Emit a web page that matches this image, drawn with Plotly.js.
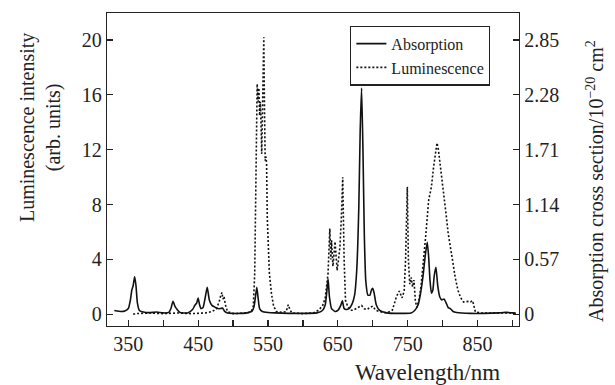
<!DOCTYPE html>
<html>
<head>
<meta charset="utf-8">
<script src="https://cdn.plot.ly/plotly-3.0.1.min.js"></script>
<style>html,body{margin:0;padding:0;background:#fff;}#chart{width:615px;height:385px;}</style>
</head>
<body>
<div id="chart"></div>
<script>
// Absorption cross section (10^-20 cm^2) vs wavelength (nm)
const absWavelength = [330,340,345,350,353,355,357,359,361,363,366,375,385,390,400,408,411,414,417,420,424,435,442,445,448,450,452,454,457,460,463,466,470,474,478,482,485,488,492,500,510,520,527,530,532,534,536,538,542,550,560,580,600,620,628,632,634,636,638,641,646,650,654,656.5,659,662,666,670,674,677,680,682,684,686,688,690,693,696,698,700,702,705,710,720,740,755,760,765,768,772,775,778,780,782,784,786,788,790.5,793,796,799,802,805,808,811,815,820,840,860,880,890,900,905];
const absValues = [0.04,0.03,0.035,0.06,0.15,0.25,0.3,0.39,0.3,0.12,0.04,0.02,0.02,0.025,0.015,0.02,0.06,0.135,0.08,0.05,0.02,0.015,0.05,0.09,0.12,0.17,0.1,0.06,0.07,0.17,0.28,0.15,0.09,0.075,0.06,0.06,0.065,0.03,0.015,0.01,0.01,0.015,0.03,0.08,0.18,0.28,0.16,0.06,0.03,0.02,0.015,0.01,0.01,0.015,0.04,0.1,0.22,0.37,0.18,0.06,0.03,0.04,0.09,0.14,0.06,0.05,0.06,0.1,0.2,0.45,1.1,1.9,2.35,1.7,0.8,0.35,0.2,0.2,0.25,0.27,0.22,0.1,0.04,0.015,0.01,0.015,0.04,0.1,0.2,0.4,0.6,0.75,0.6,0.35,0.22,0.25,0.4,0.49,0.3,0.18,0.15,0.16,0.12,0.07,0.06,0.03,0.02,0.01,0.01,0.015,0.02,0.015,0.01];
// Luminescence intensity (arb. units) vs wavelength (nm)
const lumWavelength = [357,360,380,400,420,440,460,470,476,480,482,484,485.5,487,489,492,500,520,526,529,531,533,534.5,536,537,538,539,540,541,542,543,544,545,546,547,548,549,550,552,555,558,562,570,576,579,581,584,600,615,622,628,632,636,638.5,640,641,643,646,648,649,651,653,655,657,659,661,664,668,672,676,680,684,688,692,696,700,704,710,720,728,734,738,742,745,747,749.5,751,753,755,757,759,761,763,766,769,772,776,780,784,787,789,791,792,794,796,798,801,805,808,812,815,818,822,826,830,834,837,840,843,845,847,855,870,890,905];
const lumValues = [0.0,0.05,0.1,0.05,0.1,0.05,0.1,0.2,0.4,0.9,1.3,1.6,1.1,1.3,0.7,0.2,0.05,0.1,0.2,0.6,3,10,16.8,15.5,16.5,14.5,15.5,14,11.7,14.5,17,20.2,15,11.2,11.5,11,7,5,3,1.5,0.6,0.2,0.15,0.2,0.7,0.4,0.1,0.05,0.1,0.3,0.6,1.2,3,6.25,4,5.4,3.5,5.3,3.5,3.2,4,4.9,7,10,4,1.0,0.6,0.3,0.3,0.4,0.5,0.65,0.4,0.35,0.5,0.6,0.3,0.2,0.1,0.3,1.3,1.7,1.2,1.7,4,9.3,4,2.2,2.7,2.0,2.5,1.0,0.5,1.0,2.0,3.5,5.8,8.3,9.3,10.7,11.5,12.2,12.5,12.0,11.2,10.2,8.8,7.3,5.9,4.8,3.7,2.7,1.75,1.2,0.9,0.95,0.9,0.9,1.0,0.6,0.17,0.1,0.1,0.15,0.1];
const xTickVals = [350,450,550,650,750,850];
const xTickText = ['350','450','550','650','750','850'];
const yLeftTicks = [0,4,8,12,16,20];
const yRightTicks = [0,0.57,1.14,1.71,2.28,2.85];
const yRightText = ['0','0.57','1.14','1.71','2.28','2.85'];

const serif = 'Liberation Serif, Times New Roman, serif';
const traces = [
  {x: absWavelength, y: absValues, yaxis: 'y2', name: 'Absorption', type: 'scatter', mode: 'lines',
   line: {color: '#111', width: 1.6, shape: 'spline', smoothing: 0.5}},
  {x: lumWavelength, y: lumValues, yaxis: 'y', name: 'Luminescence', type: 'scatter', mode: 'lines',
   line: {color: '#111', width: 1.6, dash: '2px,2px'}}
];
const layout = {
  width: 615, height: 385,
  margin: {l: 107, r: 96, t: 13, b: 59},
  paper_bgcolor: '#fff', plot_bgcolor: '#fff',
  font: {family: serif, size: 20, color: '#222'},
  showlegend: true,
  legend: {x: 0.93, y: 0.96, xanchor: 'right', yanchor: 'top', bgcolor: '#fff',
           bordercolor: '#222', borderwidth: 1.2, font: {family: serif, size: 16, color: '#222'},
           tracegroupgap: 0},
  xaxis: {range: [319.5, 909.4], tickmode: 'array', tickvals: xTickVals, ticktext: xTickText,
          ticks: 'inside', ticklen: 6, tickwidth: 1.2, tickcolor: '#222',
          minor: {tickmode: 'linear', tick0: 350, dtick: 50, ticks: 'inside', ticklen: 6, tickwidth: 1.2, tickcolor: '#222', showgrid: false},
          showline: true, linecolor: '#222', linewidth: 1.3, mirror: true,
          showgrid: false, zeroline: false, tickfont: {family: serif, size: 20, color: '#222'}},
  yaxis: {range: [-0.85, 21.97], tickvals: yLeftTicks, ticks: 'inside', ticklen: 6, tickwidth: 1.2,
          tickcolor: '#222', showline: true, linecolor: '#222', linewidth: 1.3, showgrid: false, zeroline: false,
          tickfont: {family: serif, size: 20, color: '#222'}},
  yaxis2: {range: [-0.85*0.1425, 21.97*0.1425], overlaying: 'y', side: 'right', tickvals: yRightTicks,
           ticktext: yRightText, ticks: 'inside', ticklen: 6, tickwidth: 1.2, tickcolor: '#222',
           showline: true, linecolor: '#222', linewidth: 1.3, showgrid: false, zeroline: false,
           tickfont: {family: serif, size: 20, color: '#222'}},
  annotations: [
    {text: 'Luminescence intensity<br>(arb. units)', xref: 'paper', yref: 'paper', x: -0.163, y: 0.635,
     xanchor: 'center', yanchor: 'middle', textangle: -90, showarrow: false,
     font: {family: serif, size: 20, color: '#222'}},
    {text: 'Absorption cross section/10<sup>\u221220</sup> cm<sup>2</sup>', xref: 'paper', yref: 'paper',
     x: 1.184, y: 0.463, xanchor: 'center', yanchor: 'middle', textangle: -90, showarrow: false,
     font: {family: serif, size: 20, color: '#222'}},
    {text: 'Wavelength/nm', xref: 'paper', yref: 'paper', x: 0.779, y: -0.147, xanchor: 'center',
     yanchor: 'middle', showarrow: false, font: {family: serif, size: 23, color: '#222'}}
  ]
};
Plotly.newPlot('chart', traces, layout, {displayModeBar: false, staticPlot: true});
</script>
</body>
</html>
